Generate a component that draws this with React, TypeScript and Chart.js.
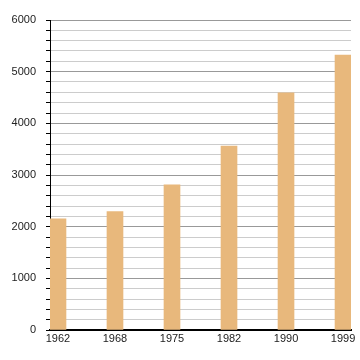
import { useEffect, useRef } from "react";
import { Chart, registerables } from "chart.js";

Chart.register(...registerables);

const years = ["1962", "1968", "1975", "1982", "1990", "1999"];
const population = [2150, 2290, 2810, 3560, 4590, 5320];
const yMax = 6000;
const yStep = 200;
const yLabelStep = 1000;

export default function App() {
  const ref = useRef<HTMLCanvasElement>(null);
  useEffect(() => {
    if (!ref.current) return;
    const chart = new Chart(ref.current, {
      type: "bar",
      data: {
        datasets: [
          {
            data: population.map((v, i) => ({ x: i, y: v })),
            backgroundColor: "#E8B87C",
            borderWidth: 0,
            barThickness: 16,
          },
        ],
      },
      options: {
        animation: false,
        responsive: false,
        maintainAspectRatio: false,
        layout: { padding: { top: 20, right: 9, left: 0, bottom: 0 } },
        plugins: { legend: { display: false }, tooltip: { enabled: false } },
        scales: {
          x: {
            type: "linear",
            offset: false,
            min: -0.14,
            max: 5.14,
            afterBuildTicks: (scale: any) => {
              scale.ticks = years.map((_, i) => ({ value: i }));
            },
            afterFit: (scale: any) => {
              scale.height = 30;
            },
            grid: { display: false, drawTicks: false, offset: false },
            border: { display: true, color: "#000", width: 2 },
            ticks: {
              autoSkip: false,
              maxRotation: 0,
              padding: 2,
              color: "#222",
              font: { family: "Liberation Sans", size: 11 },
              callback: (v: any) => years[Math.round(Number(v))] ?? "",
            },
          },
          y: {
            min: 0,
            max: yMax,
            afterFit: (scale: any) => {
              scale.width = 50;
            },
            grid: {
              color: (ctx: any) =>
                ctx.tick && ctx.tick.value % yLabelStep === 0 ? "#999" : "#ccc",
              tickColor: "#000",
              tickLength: 4,
              lineWidth: 1,
            },
            border: { display: true, color: "#000", width: 1 },
            ticks: {
              stepSize: yStep,
              autoSkip: false,
              padding: 10,
              color: "#222",
              font: { family: "Liberation Sans", size: 11 },
              callback: (v: any) => (Number(v) % yLabelStep === 0 ? String(v) : ""),
            },
          },
        },
      },
    });
    return () => chart.destroy();
  }, []);
  return (
    <div style={{ position: "fixed", left: 0, top: 0, width: 360, height: 360, background: "#fff" }}>
      <canvas ref={ref} width={360} height={360} style={{ width: 360, height: 360 }} />
    </div>
  );
}
